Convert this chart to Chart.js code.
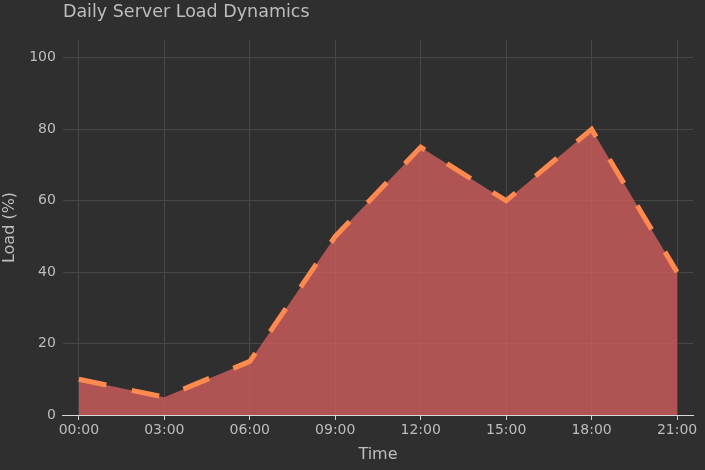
<!DOCTYPE html>
<html>
<head>
<meta charset="utf-8">
<script src="https://cdn.jsdelivr.net/npm/chart.js@4/dist/chart.umd.min.js"></script>
<style>
  html, body { margin: 0; padding: 0; background: #2f2f2f; }
  #wrap { width: 705px; height: 470px; }
</style>
</head>
<body>
<div id="wrap"><canvas id="myChart"></canvas></div>
<script>
const hours = [0, 3, 6, 9, 12, 15, 18, 21];
const timeLabels = ['00:00', '03:00', '06:00', '09:00', '12:00', '15:00', '18:00', '21:00'];
const loadValues = [10, 5, 15, 50, 75, 60, 80, 40];
const yTicks = [0, 20, 40, 60, 80, 100];

const textColor = '#bdbdbd';
const gridColor = '#474747';
const fontFamily = '"DejaVu Sans", sans-serif';

// title drawn at the left edge of the plot area
const titlePlugin = {
    id: 'leftTitle',
    afterDraw(chart) {
        const ctx = chart.ctx;
        ctx.save();
        ctx.fillStyle = textColor;
        ctx.font = '17.5px ' + fontFamily;
        ctx.textBaseline = 'middle';
        ctx.textAlign = 'left';
        ctx.fillText('Daily Server Load Dynamics', chart.chartArea.left, 12);
        ctx.restore();
    }
};

const ctx = document.getElementById('myChart').getContext('2d');
new Chart(ctx, {
    type: 'line',
    data: {
        datasets: [{
            label: 'Load',
            data: hours.map((h, i) => ({ x: h, y: loadValues[i] })),
            borderColor: '#ff8a4f',
            backgroundColor: 'rgba(205, 92, 92, 0.82)',
            borderWidth: 5,
            borderDash: [28, 26],
            fill: 'origin',
            tension: 0,
            pointRadius: 0
        }]
    },
    options: {
        responsive: true,
        maintainAspectRatio: false,
        animation: false,
        layout: { padding: { top: 40, right: 12, left: 0, bottom: 6 } },
        plugins: {
            legend: { display: false },
            tooltip: { enabled: false }
        },
        scales: {
            x: {
                type: 'linear',
                min: -0.56,
                max: 21.56,
                afterBuildTicks: (scale) => {
                    scale.ticks = hours.map(v => ({ value: v }));
                },
                ticks: {
                    color: textColor,
                    font: { family: fontFamily, size: 14 },
                    padding: 2,
                    maxRotation: 0,
                    callback: (v) => timeLabels[hours.indexOf(v)]
                },
                grid: {
                    color: gridColor,
                    tickColor: '#d0d0d0',
                    tickLength: 5
                },
                border: { display: true, color: '#d8d8d8', width: 1 },
                title: {
                    display: true,
                    text: 'Time',
                    color: textColor,
                    font: { family: fontFamily, size: 16 },
                    padding: { top: 4, bottom: 0 }
                }
            },
            y: {
                min: 0,
                max: 105,
                afterBuildTicks: (scale) => {
                    scale.ticks = yTicks.map(v => ({ value: v }));
                },
                ticks: {
                    color: textColor,
                    font: { family: fontFamily, size: 14 },
                    padding: 7
                },
                grid: {
                    color: gridColor,
                    drawTicks: false
                },
                border: { display: false },
                title: {
                    display: true,
                    text: 'Load (%)',
                    color: textColor,
                    font: { family: fontFamily, size: 16 },
                    padding: { top: 0, bottom: 3 }
                }
            }
        }
    },
    plugins: [titlePlugin]
});
</script>
</body>
</html>
